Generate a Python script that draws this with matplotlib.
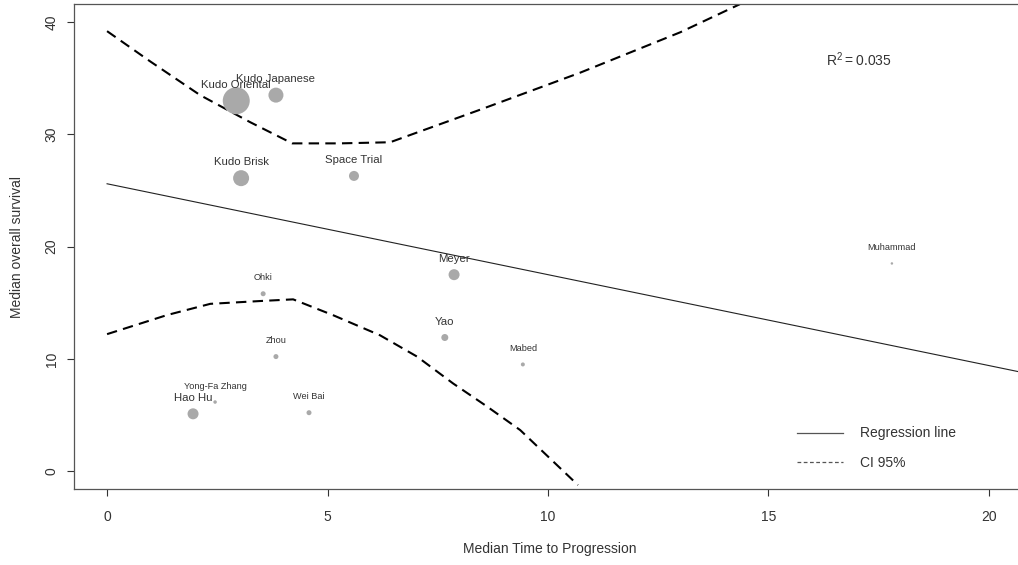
import matplotlib
matplotlib.use('Agg')
import matplotlib.pyplot as plt
from matplotlib.lines import Line2D

plt.rcParams['font.family'] = ['Liberation Sans', 'DejaVu Sans']

# studies: median TTP (x) vs median OS (y), bubble weight
studies = ['Kudo Oriental', 'Kudo Japanese', 'Kudo Brisk', 'Space Trial', 'Ohki',
           'Meyer', 'Yao', 'Mabed', 'Zhou', 'Yong-Fa Zhang', 'Hao Hu', 'Wei Bai', 'Muhammad']
ttp = [2.93, 3.83, 3.04, 5.60, 3.54, 7.87, 7.66, 9.43, 3.83, 2.45, 1.95, 4.58, 17.8]
os_median = [33.0, 33.5, 26.1, 26.3, 15.8, 17.5, 11.9, 9.5, 10.2, 6.15, 5.1, 5.2, 18.5]
weights = [5.4, 3.0, 3.2, 2.0, 1.0, 2.2, 1.4, 0.8, 1.0, 0.7, 2.2, 1.0, 0.5]

# regression line
reg_intercept = 25.6
reg_slope = -0.81
reg_x = [0, 21]
r_squared = 0.035

# 95% confidence band
ci_upper_x = [0.0, 0.98, 2.11, 3.24, 4.20, 5.28, 6.42, 8.46, 10.73, 13.0, 14.35]
ci_upper_y = [39.2, 36.5, 33.5, 31.1, 29.2, 29.2, 29.3, 32.2, 35.5, 39.1, 41.6]
ci_lower_x = [0.0, 1.36, 2.34, 3.47, 4.22, 5.12, 6.19, 7.03, 7.85, 8.6, 9.37, 10.68]
ci_lower_y = [12.2, 13.9, 14.9, 15.15, 15.3, 13.9, 12.1, 10.2, 7.8, 5.8, 3.65, -1.25]

txt = '#333333'
fig = plt.figure(figsize=(10.18, 5.65), dpi=100)
ax = fig.add_axes([74 / 1018, 1 - 489 / 565, 944 / 1018, 485 / 565])

sizes = [(5 * w * 0.72) ** 2 for w in weights]
ax.scatter(ttp, os_median, s=sizes, color='#a9a9a9', edgecolors='none', zorder=3)

for name, x, y, w in zip(studies, ttp, os_median, weights):
    fs = 8.2 if w >= 1.4 else 6.6
    ax.annotate(name, (x, y), xytext=(0, 11.5), textcoords='offset points',
                ha='center', va='center', fontsize=fs, color=txt, zorder=4)

reg_y = [reg_intercept + reg_slope * x for x in reg_x]
ax.plot(reg_x, reg_y, color='#222222', lw=0.8, zorder=2)
ax.plot(ci_upper_x, ci_upper_y, color='black', lw=1.5, dashes=(5, 3), zorder=2)
ax.plot(ci_lower_x, ci_lower_y, color='black', lw=1.5, dashes=(5, 3), zorder=2)

ax.set_xlim(-0.75, 20.66)
ax.set_ylim(-1.6, 41.62)
ax.set_xticks([0, 5, 10, 15, 20])
ax.set_yticks([0, 10, 20, 30, 40])
ax.tick_params(axis='both', length=5, width=0.8, color='#333333', labelsize=10, labelcolor=txt)
ax.tick_params(axis='x', pad=10)
ax.tick_params(axis='y', pad=6)
for lab in ax.get_yticklabels():
    lab.set_rotation(90)
    lab.set_va('center')

for s in ['left', 'bottom', 'top']:
    ax.spines[s].set_color('#555555')
    ax.spines[s].set_linewidth(0.9)
ax.spines['right'].set_visible(False)

ax.set_xlabel('Median Time to Progression', fontsize=10, color=txt)
ax.xaxis.set_label_coords(0.504, -0.109)
ax.set_ylabel('Median overall survival', fontsize=10, color=txt)
ax.yaxis.set_label_coords(-0.053, 0.5)

ax.text(0.797, 0.885, r'$\mathregular{R^2 = %.3f}$' % r_squared, transform=ax.transAxes,
        fontsize=10, color=txt, ha='left', va='center')

handles = [Line2D([], [], color='#555555', lw=0.9),
           Line2D([], [], color='#555555', lw=0.9, dashes=(3, 2))]
ax.legend(handles, ['Regression line', 'CI 95%'], frameon=False, loc='center left',
          bbox_to_anchor=(797 / 1018, 1 - 448 / 565), bbox_transform=fig.transFigure,
          borderpad=0, borderaxespad=0, handlelength=3.3, handletextpad=1.2,
          labelspacing=1.1, fontsize=10, labelcolor=txt)

fig.savefig('out.png', dpi=100)
